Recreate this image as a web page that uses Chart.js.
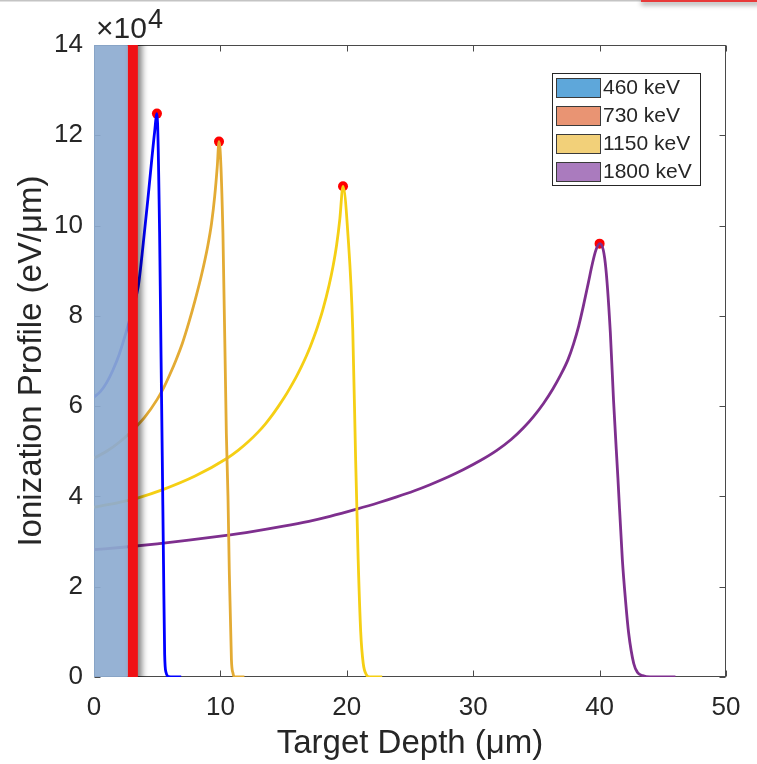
<!DOCTYPE html>
<html>
<head>
<meta charset="utf-8">
<script src="https://cdn.jsdelivr.net/npm/chart.js@4.4.1/dist/chart.umd.min.js"></script>
<style>
  html, body { margin: 0; padding: 0; background: #fff; }
  #wrap { position: relative; width: 757px; height: 764px; }
</style>
</head>
<body>
<div id="wrap"><canvas id="profile" width="757" height="764"></canvas></div>
<script>
"use strict";

// depth in µm, ionization in units of 1e4 eV/µm
const depth460 = [0, 0.5, 1.0, 1.5, 2.0, 2.5, 3.0, 3.5, 3.8, 4.26, 4.79, 4.98, 5.19, 5.3, 5.4, 5.5, 5.59, 5.7, 5.9, 6.9];
const ion460 = [6.2, 6.32, 6.52, 6.8, 7.15, 7.6, 8.1, 8.65, 9.35, 10.58, 12.06, 12.48, 9.84, 7.2, 4.9, 2.5, 0.5, 0.1, 0.01, 0];

const depth730 = [0, 1, 2, 3, 4, 5, 5.5, 6, 6.5, 7, 7.5, 8, 8.5, 9, 9.3, 9.55, 9.75, 9.89, 10.2, 10.47, 10.6, 10.7, 10.87, 11.0, 11.15, 11.9];
const ion730 = [4.85, 5.0, 5.2, 5.45, 5.75, 6.15, 6.4, 6.7, 7.03, 7.4, 7.85, 8.35, 8.9, 9.55, 10.05, 10.65, 11.3, 11.86, 9.84, 5.4, 4.0, 2.4, 0.4, 0.08, 0, 0];

const depth1150 = [0, 2.0, 3.5, 5.45, 8.0, 10.5, 11.4, 12.2, 13.0, 13.6, 14.1, 14.6, 15.05, 15.5, 16.0, 16.4, 16.8, 17.1, 17.4, 17.7, 18.1, 18.6, 18.9, 19.2, 19.45, 19.7, 20.1, 20.47, 20.7, 20.9, 21.1, 21.3, 21.55, 21.8, 22.8];
const ion1150 = [3.76, 3.87, 3.97, 4.15, 4.45, 4.84, 5.02, 5.21, 5.43, 5.62, 5.8, 6.0, 6.19, 6.4, 6.65, 6.87, 7.11, 7.31, 7.53, 7.77, 8.13, 8.68, 9.08, 9.58, 10.15, 10.87, 9.76, 7.7, 4.8, 2.6, 1.0, 0.3, 0.05, 0, 0];

const depth1800 = [0, 2.5, 5, 7.5, 10, 12.5, 15, 17, 18.67, 20.78, 22.5, 23.95, 25.3, 26.58, 28, 29.2, 30.6, 31.87, 33, 33.98, 34.8, 35.56, 36.3, 36.9, 37.5, 37.94, 38.35, 38.7, 39.1, 39.4, 39.7, 40.0, 40.45, 40.85, 41.1, 41.45, 41.8, 42.05, 42.3, 42.7, 43.0, 43.4, 44.0, 46.0];
const ion1800 = [2.82, 2.88, 2.95, 3.03, 3.12, 3.22, 3.34, 3.45, 3.56, 3.72, 3.86, 3.99, 4.12, 4.26, 4.43, 4.59, 4.8, 5.02, 5.26, 5.52, 5.78, 6.06, 6.38, 6.68, 7.03, 7.38, 7.78, 8.2, 8.72, 9.12, 9.45, 9.6, 9.17, 7.63, 6.14, 4.4, 2.6, 1.7, 0.97, 0.3, 0.1, 0.03, 0, 0];

const energyLabels = ["460 keV", "730 keV", "1150 keV", "1800 keV"];
const lineColors = ["#0000FF", "#E3AB34", "#F5CF14", "#7E2F8E"];
const patchColors = ["#5EA7DA", "#E99473", "#F2D079", "#AA7BBE"];

const xTicks = [0, 10, 20, 30, 40, 50];
const yTicks = [0, 2, 4, 6, 8, 10, 12, 14];

// masked surface layer and the marker bar, in µm
const maskDepth = [0, 2.68];
const barDepth = [2.68, 3.47];

const FONT = "'Liberation Sans', Arial, Helvetica, sans-serif";
const INK = "#262626";

const series = [
    [depth460, ion460],
    [depth730, ion730],
    [depth1150, ion1150],
    [depth1800, ion1800],
];

const toPoints = (xs, ys) => xs.map((x, i) => ({ x: x, y: ys[i] }));

// Bragg peak of each curve
const peaks = series.map(([xs, ys]) => {
    let k = 0;
    ys.forEach((v, i) => { if (v > ys[k]) k = i; });
    return { x: xs[k], y: ys[k] };
});

const lineSets = series.map(([xs, ys], i) => ({
    label: energyLabels[i],
    data: toPoints(xs, ys),
    borderColor: lineColors[i],
    borderWidth: 2.8,
    pointRadius: 0,
    fill: false,
    cubicInterpolationMode: "monotone",
}));

const peakSet = {
    label: "peaks",
    data: peaks,
    showLine: false,
    pointRadius: 5,
    pointBackgroundColor: "#FF0000",
    pointBorderWidth: 0,
};

// axes box with inward ticks on all four sides
const framePlugin = {
    id: "frame",
    beforeDatasetsDraw(chart) {
        const { ctx, chartArea: a, scales } = chart;
        const L = Math.round(a.left) + 0.5, R = Math.round(a.right) - 0.5;
        const T = Math.round(a.top) + 0.5, B = Math.round(a.bottom) - 0.5;
        ctx.save();
        ctx.strokeStyle = "#4a4a4a";
        ctx.lineWidth = 1;
        ctx.strokeRect(L, T, R - L, B - T);
        ctx.beginPath();
        yTicks.forEach((v) => {
            const y = Math.round(scales.y.getPixelForValue(v)) + 0.5;
            ctx.moveTo(L, y); ctx.lineTo(L + 6, y);
            ctx.moveTo(R, y); ctx.lineTo(R - 6, y);
        });
        xTicks.forEach((v) => {
            const x = Math.round(scales.x.getPixelForValue(v)) + 0.5;
            ctx.moveTo(x, B); ctx.lineTo(x, B - 6);
            ctx.moveTo(x, T); ctx.lineTo(x, T + 6);
        });
        ctx.stroke();
        ctx.restore();
    },
};

// shaded surface layer and red marker bar laid over the curves
const overlayPlugin = {
    id: "overlay",
    afterDatasetsDraw(chart) {
        const { ctx, chartArea: a, scales } = chart;
        const xs = scales.x;
        ctx.save();
        ctx.beginPath();
        ctx.rect(a.left, a.top, a.right - a.left + 20, a.bottom - a.top);
        ctx.clip();

        const m0 = xs.getPixelForValue(maskDepth[0]);
        const m1 = xs.getPixelForValue(maskDepth[1]);
        ctx.fillStyle = "rgba(141, 171, 208, 0.92)";
        ctx.fillRect(m0, a.top, m1 - m0, a.bottom - a.top);

        const b0 = xs.getPixelForValue(barDepth[0]);
        const b1 = xs.getPixelForValue(barDepth[1]);
        ctx.shadowColor = "rgba(0, 0, 0, 0.5)";
        ctx.shadowBlur = 6;
        ctx.shadowOffsetX = 4;
        ctx.fillStyle = "#F01014";
        ctx.fillRect(b0, a.top - 10, b1 - b0, a.bottom - a.top + 20);
        ctx.restore();
    },
};

// legend box, exponent label and top strip
const decorPlugin = {
    id: "decor",
    afterDraw(chart) {
        const { ctx } = chart;
        ctx.save();

        // legend
        ctx.fillStyle = "#FFFFFF";
        ctx.fillRect(552.5, 73.5, 148, 112);
        ctx.strokeStyle = "#262626";
        ctx.lineWidth = 1;
        ctx.strokeRect(552.5, 73.5, 148, 112);
        ctx.font = "21px " + FONT;
        ctx.textBaseline = "middle";
        ctx.textAlign = "left";
        energyLabels.forEach((lab, i) => {
            const top = 78 + i * 28;
            ctx.fillStyle = patchColors[i];
            ctx.fillRect(556.5, top + 0.5, 44, 19);
            ctx.strokeStyle = "#3a3a3a";
            ctx.strokeRect(556.5, top + 0.5, 44, 19);
            ctx.fillStyle = INK;
            ctx.fillText(lab, 603, top + 10.5);
        });

        // ×10^4 multiplier
        ctx.fillStyle = INK;
        ctx.textBaseline = "alphabetic";
        ctx.font = "30px " + FONT;
        ctx.fillText("\u00D710", 96, 38);
        const w = ctx.measureText("\u00D710").width;
        ctx.font = "27px " + FONT;
        ctx.fillText("4", 96 + w + 1, 28);

        // top strip
        ctx.fillStyle = "#C4C4C4";
        ctx.fillRect(0, 0, 641, 1.5);
        ctx.shadowColor = "rgba(0, 0, 0, 0.35)";
        ctx.shadowBlur = 5;
        ctx.shadowOffsetY = 3;
        ctx.fillStyle = "#E83A3A";
        ctx.fillRect(641, -2, 120, 4);
        ctx.restore();
    },
};

const ctx = document.getElementById("profile").getContext("2d");
new Chart(ctx, {
    type: "line",
    data: { datasets: [...lineSets, peakSet] },
    options: {
        responsive: false,
        animation: false,
        devicePixelRatio: 1,
        layout: { padding: { top: 45, right: 31, left: 0, bottom: 0 } },
        plugins: { legend: { display: false }, tooltip: { enabled: false } },
        scales: {
            x: {
                type: "linear",
                min: 0,
                max: 50,
                afterBuildTicks: (s) => { s.ticks = xTicks.map((v) => ({ value: v })); },
                afterFit: (s) => { s.height = 87; },
                grid: { display: false, drawTicks: false },
                border: { display: false },
                ticks: { font: { family: FONT, size: 26 }, color: INK, padding: 15, maxRotation: 0 },
                title: {
                    display: true,
                    text: "Target Depth (\u03BCm)",
                    font: { family: FONT, size: 33 },
                    color: INK,
                    padding: { top: 0, bottom: 0 },
                },
            },
            y: {
                type: "linear",
                min: 0,
                max: 14,
                afterBuildTicks: (s) => { s.ticks = yTicks.map((v) => ({ value: v })); },
                afterFit: (s) => { s.width = 94; },
                grid: { display: false, drawTicks: false },
                border: { display: false },
                ticks: { font: { family: FONT, size: 26 }, color: INK, padding: 11 },
                title: {
                    display: true,
                    text: "Ionization Profile (eV/\u03BCm)",
                    font: { family: FONT, size: 33 },
                    color: INK,
                    padding: { top: 12, bottom: 0 },
                },
            },
        },
    },
    plugins: [framePlugin, overlayPlugin, decorPlugin],
});
</script>
</body>
</html>
